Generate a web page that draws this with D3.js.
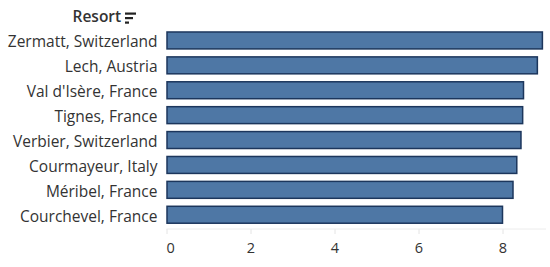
<!DOCTYPE html>
<html>
<head>
<meta charset="utf-8">
<script src="https://cdn.jsdelivr.net/npm/d3@7"></script>
<style>
  body { margin: 0; background: #fff; }
  svg { display: block; font-family: "Open Sans", sans-serif; }
</style>
</head>
<body>
<div id="wrapper"></div>
<script>
const resorts = [
  "Zermatt, Switzerland",
  "Lech, Austria",
  "Val d'Isère, France",
  "Tignes, France",
  "Verbier, Switzerland",
  "Courmayeur, Italy",
  "Méribel, France",
  "Courchevel, France"
]
const scores = [8.95, 8.83, 8.5, 8.48, 8.44, 8.34, 8.25, 8.0]
const xTicks = [0, 2, 4, 6, 8]
const headerLabel = "Resort"

function drawChart() {
  const dataset = resorts.map((r, i) => ({ resort: r, score: scores[i] }))
  const xAccessor = d => d.score
  const yAccessor = d => d.resort

  let dimensions = {
    width: 550,
    height: 267,
    margin: { top: 28, right: 4, bottom: 38, left: 166.5 },
  }
  dimensions.boundedWidth = dimensions.width - dimensions.margin.left - dimensions.margin.right
  dimensions.boundedHeight = dimensions.height - dimensions.margin.top - dimensions.margin.bottom

  const wrapper = d3.select("#wrapper")
    .append("svg")
      .attr("width", dimensions.width)
      .attr("height", dimensions.height)

  const bounds = wrapper.append("g")
      .attr("transform", `translate(${dimensions.margin.left},${dimensions.margin.top})`)

  // 42 px per unit
  const xScale = d3.scaleLinear()
    .domain([0, 1])
    .range([0, 42])

  const yScale = d3.scaleBand()
    .domain(resorts)
    .range([0, 24.9 * resorts.length])
    .paddingInner(0.32)
    .paddingOuter(0.16)

  // axis baseline + ticks (very faint)
  const axisY = 201
  const xAxisGenerator = d3.axisBottom(xScale)
    .tickValues(xTicks)
    .tickSize(5)
    .tickPadding(9)
    .tickFormat(d3.format("d"))

  const xAxis = bounds.append("g")
      .attr("transform", `translate(0,${axisY})`)
      .call(xAxisGenerator)
      .attr("font-family", null)
  xAxis.select(".domain").remove()
  xAxis.append("line")
      .attr("x1", 0)
      .attr("x2", dimensions.boundedWidth)
      .attr("stroke", "#ececec")
  xAxis.selectAll(".tick line").attr("stroke", "#e4e4e4")
  xAxis.selectAll(".tick text")
      .attr("fill", "#333")
      .style("font-size", "14.5px")
  // first label is left-aligned, like the original
  xAxis.selectAll(".tick text")
      .filter(d => d === 0)
      .attr("text-anchor", "start")
      .attr("x", -0.5)

  bounds.selectAll("rect.bar")
    .data(dataset)
    .join("rect")
      .attr("class", "bar")
      .attr("x", xScale(0) + 0.5)
      .attr("y", d => yScale(yAccessor(d)))
      .attr("width", d => xScale(xAccessor(d)) - xScale(0) - 0.5)
      .attr("height", yScale.bandwidth())
      .attr("fill", "#4e77a5")
      .attr("stroke", "#1c365c")
      .attr("stroke-width", 1.5)

  const yAxisGenerator = d3.axisLeft(yScale)
    .tickSize(0)
    .tickPadding(9)

  const yAxis = bounds.append("g")
      .call(yAxisGenerator)
      .attr("font-family", null)
  yAxis.select(".domain").remove()
  yAxis.selectAll(".tick text")
      .attr("fill", "#333")
      .attr("dy", "0.45em")
      .style("font-size", "15.5px")

  // header with sort icon
  const header = wrapper.append("g")
  header.append("text")
      .attr("x", 72.5)
      .attr("y", 22)
      .attr("fill", "#333")
      .style("font-size", "15.5px")
      .style("font-weight", "600")
      .text(headerLabel)
  const icon = header.append("g").attr("transform", "translate(125,12.5)")
  ;[11, 8, 4].forEach((w, i) => {
    icon.append("rect")
        .attr("x", 0)
        .attr("y", i * 4.5)
        .attr("width", w)
        .attr("height", 2.2)
        .attr("fill", "#222")
  })
}

drawChart()
</script>
</body>
</html>
